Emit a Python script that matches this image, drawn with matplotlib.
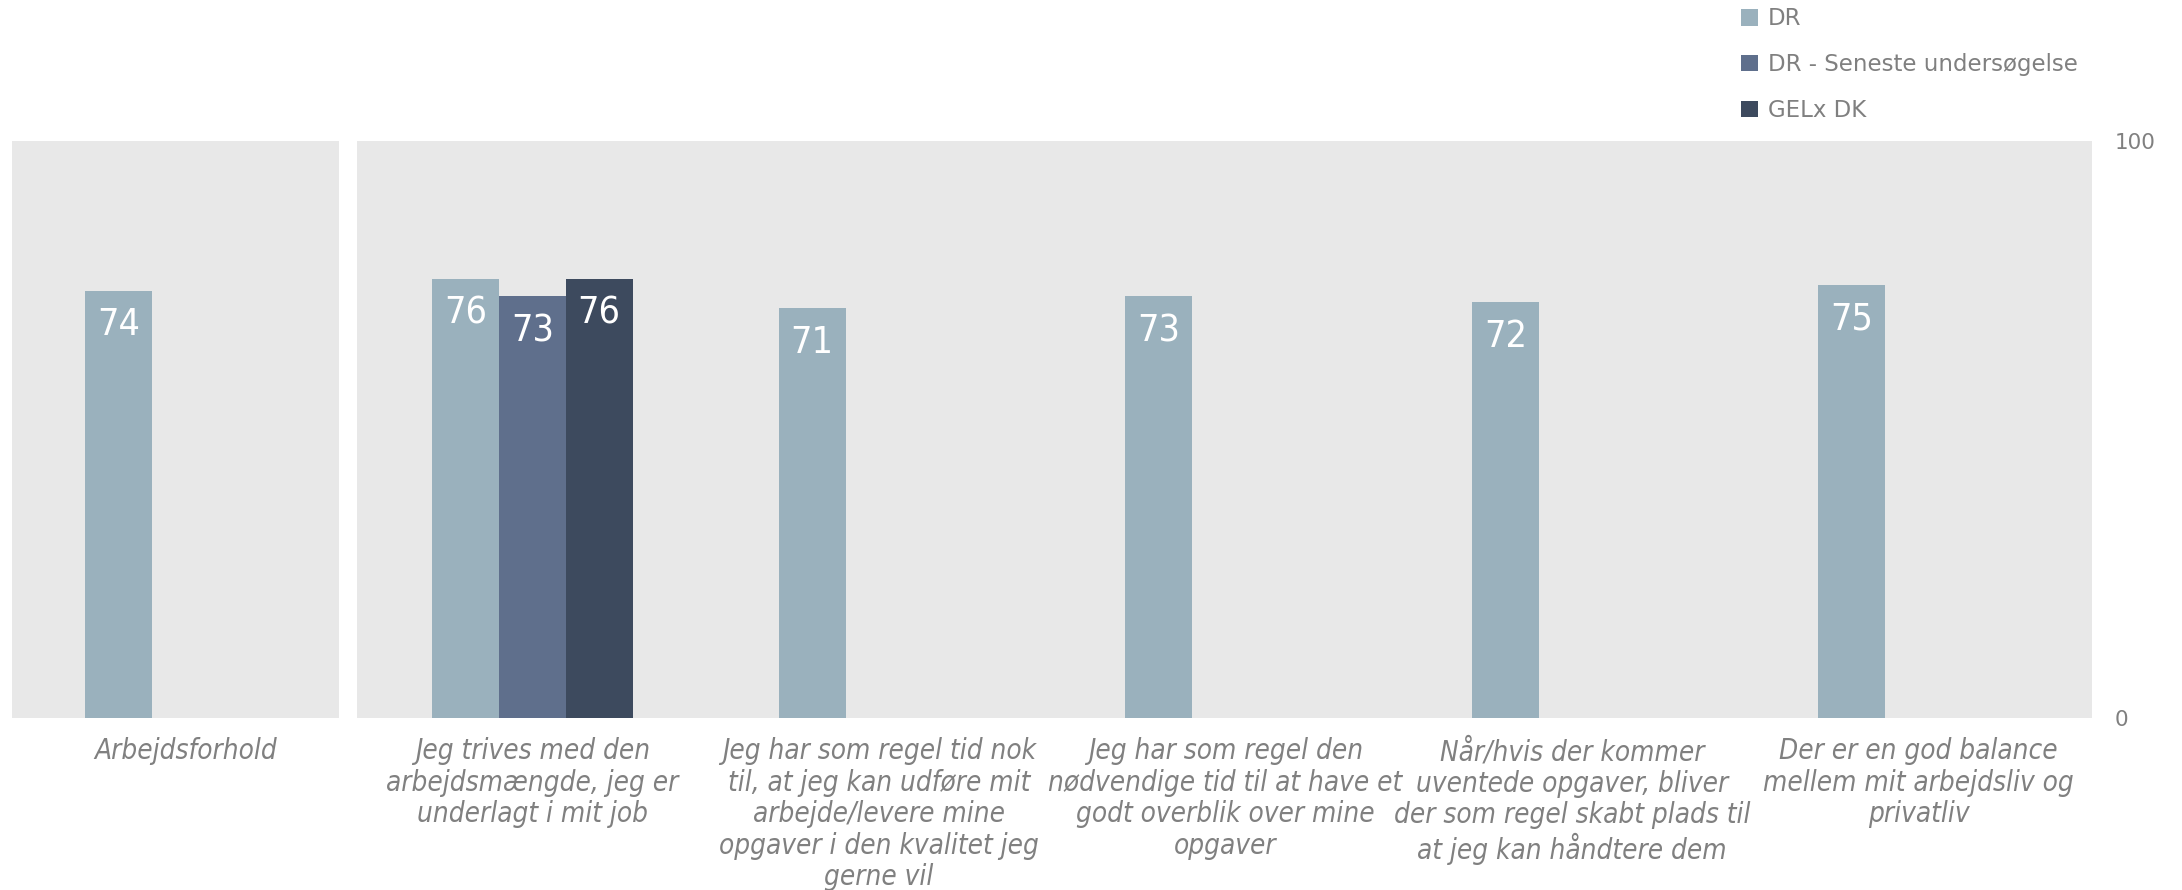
import matplotlib
matplotlib.use("Agg")
import matplotlib.pyplot as plt
import numpy as np

# data
categories = [
    "Arbejdsforhold",
    "Jeg trives med den\narbejdsmængde, jeg er\nunderlagt i mit job",
    "Jeg har som regel tid nok\ntil, at jeg kan udføre mit\narbejde/levere mine\nopgaver i den kvalitet jeg\ngerne vil",
    "Jeg har som regel den\nnødvendige tid til at have et\ngodt overblik over mine\nopgaver",
    "Når/hvis der kommer\nuventede opgaver, bliver\nder som regel skabt plads til\nat jeg kan håndtere dem",
    "Der er en god balance\nmellem mit arbejdsliv og\nprivatliv",
]
series_names = ["DR", "DR - Seneste undersøgelse", "GELx DK"]
dr = [74, 76, 71, 73, 72, 75]
dr_seneste = [np.nan, 73, np.nan, np.nan, np.nan, np.nan]
gelx_dk = [np.nan, 76, np.nan, np.nan, np.nan, np.nan]
y_ticks = [0, 100]

colors = ["#9ab1bd", "#5f6f8c", "#3d4a5e"]
panel_gray = "#e8e8e8"
text_gray = "#808080"

fig = plt.figure(figsize=(21.82, 8.90), dpi=100)
ax = fig.add_axes([0.0057, 0.1933, 0.9531, 0.6488])

x = np.arange(len(categories))
w = 0.193

# grey panels with a white gap after the first (summary) category
ax.axvspan(-0.5, 0.442, color=panel_gray, lw=0, zorder=0)
ax.axvspan(0.494, 5.5, color=panel_gray, lw=0, zorder=0)

handles = []
for i, (vals, col) in enumerate(zip([dr, dr_seneste, gelx_dk], colors)):
    pos = x + (i - 1) * w
    b = ax.bar(pos, vals, w, color=col, label=series_names[i], zorder=2)
    handles.append(b)
    for px, v in zip(pos, vals):
        if np.isnan(v):
            continue
        ax.annotate(f"{v:.0f}", (px, v), xytext=(0, -25), textcoords="offset points",
                    ha="center", va="center", color="white", fontsize=27,
                    family="DejaVu Sans", stretch="condensed", zorder=3)

ax.set_xlim(-0.5, 5.5)
ax.set_ylim(0, 100)
ax.set_facecolor("white")
for s in ax.spines.values():
    s.set_visible(False)

ax.set_xticks(x)
ax.set_xticklabels(categories, fontsize=20, color=text_gray, style="italic",
                   family="DejaVu Sans", stretch="condensed", linespacing=1.16)
ax.tick_params(axis="x", length=0, pad=14)

ax.yaxis.tick_right()
ax.set_yticks(y_ticks)
ax.set_yticklabels([str(t) for t in y_ticks], fontsize=15.5, color=text_gray)
ax.tick_params(axis="y", length=0, pad=16)

fig.legend(handles=handles, loc="upper left", bbox_to_anchor=(0.798, 0.992),
           frameon=False, fontsize=16.5, labelcolor=text_gray,
           handlelength=0.75, handleheight=0.75, handletextpad=0.4,
           labelspacing=1.0, borderpad=0, borderaxespad=0)

fig.savefig("out.png", dpi=100)
